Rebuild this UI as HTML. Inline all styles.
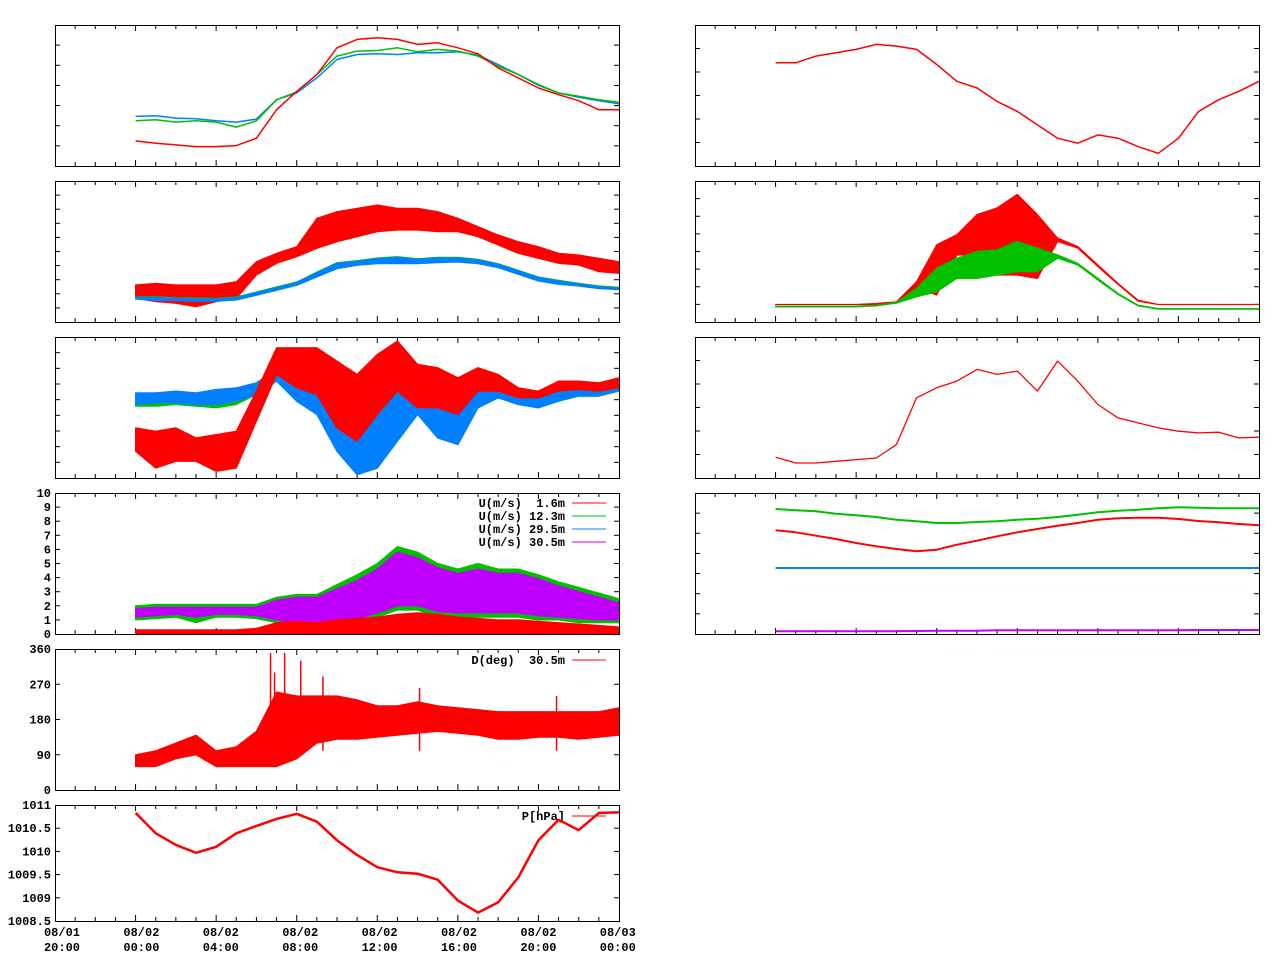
<!DOCTYPE html>
<html><head><meta charset="utf-8"><style>
html,body{margin:0;padding:0;background:#fff}
svg{display:block}
text{font-family:"Liberation Mono",monospace;font-weight:bold;font-size:12px;fill:#000;white-space:pre}
</style></head><body>
<svg id="chart" width="1280" height="960" viewBox="0 0 1280 960" xmlns="http://www.w3.org/2000/svg"></svg>
<script>
// ---- data (hours since 08/01 20:00) ----
const hours = [4,5,6,7,8,9,10,11,12,13,14,15,16,17,18,19,20,21,22,23,24,25,26,27,28];
const xTickTop = ['08/01','08/02','08/02','08/02','08/02','08/02','08/02','08/03'];
const xTickBot = ['20:00','00:00','04:00','08:00','12:00','16:00','20:00','00:00'];

// Left panel 1 (unlabeled scale 0..421)
const l1Blue  = [148,150,143,141,135,131,140,198,218,263,318,333,335,333,338,338,341,331,303,273,241,218,205,195,186];
const l1Green = [135,138,131,135,131,116,135,198,221,273,328,343,345,353,341,348,343,328,298,273,243,218,208,198,190];
const l1Red   = [75,68,63,58,58,61,83,168,223,273,353,378,383,378,363,368,353,335,293,263,233,213,195,168,168];
// Left panel 2 (0..423)
const l2RedLo  = [71,61,56,46,61,71,141,176,196,221,241,256,271,276,276,271,271,256,231,206,191,176,171,151,146];
const l2RedHi  = [111,116,111,111,111,121,181,206,226,311,331,341,351,341,341,331,311,286,261,241,226,206,201,191,181];
const l2BlueLo = [69,64,64,62,62,66,80,95,110,135,160,170,175,175,175,178,180,175,163,143,123,113,108,100,97];
const l2BlueHi = [73,74,71,70,69,73,88,103,118,148,176,182,190,194,188,192,192,186,173,153,133,123,114,106,102];
// Left panel 3 (0..422)
const l3RedLo   = [80,30,50,50,20,30,170,310,270,250,150,110,190,260,210,210,190,260,260,240,240,260,265,260,270];
const l3RedHi   = [150,140,150,120,130,140,260,390,390,390,350,310,370,410,340,330,300,330,310,270,260,290,290,285,300];
const l3GreenLo = [215,215,220,215,210,220,250,290,230,190,80,10,30,110,190,120,100,210,240,220,210,230,245,245,260];
const l3GreenHi = [240,240,250,250,235,255,285,325,310,290,260,190,210,290,310,270,230,290,300,260,250,270,285,280,295];
const l3BlueLo  = [220,225,225,220,220,230,250,290,230,190,80,10,30,110,190,120,100,210,240,220,210,230,245,245,260];
const l3BlueHi  = [255,255,260,255,265,270,285,325,310,290,260,190,210,290,310,270,230,290,300,260,250,270,285,280,295];
// Left panel 4: wind speed (m/s)
const uRedHi    = [0.3,0.3,0.3,0.3,0.3,0.3,0.4,0.8,0.9,0.8,1.0,1.1,1.2,1.4,1.5,1.4,1.2,1.1,1.0,1.0,0.9,0.8,0.7,0.6,0.5];
const uGreenLo  = [1.0,1.1,1.2,0.8,1.2,1.2,1.1,0.8,0.6,0.3,0.6,0.8,1.2,1.7,1.7,1.2,1.2,1.2,1.2,1.2,1.0,1.0,0.8,0.8,0.8];
const uGreenHi  = [2.0,2.1,2.1,2.1,2.1,2.1,2.1,2.6,2.8,2.8,3.5,4.2,5.0,6.2,5.8,5.0,4.6,5.0,4.6,4.6,4.2,3.7,3.3,2.9,2.5];
const uPurpleLo = [1.2,1.3,1.4,1.2,1.4,1.4,1.3,1.0,0.8,0.6,0.9,1.1,1.5,2.0,2.0,1.6,1.5,1.5,1.5,1.5,1.3,1.2,1.1,1.0,1.0];
const uPurpleHi = [1.8,1.9,1.9,1.9,1.9,1.9,1.9,2.4,2.6,2.6,3.2,3.8,4.6,5.8,5.4,4.7,4.3,4.6,4.3,4.3,3.9,3.4,3.0,2.6,2.2];
// Left panel 5: direction (deg)
const dLo = [60,60,80,90,60,60,60,60,80,120,130,130,135,140,145,150,145,140,130,130,135,135,130,135,140];
const dHi = [90,100,120,140,100,110,150,250,240,240,240,230,215,215,225,215,210,205,200,200,200,200,200,200,210];
const dSpikeHours = [10.7,10.9,11.4,12.2,13.3,18.1,24.9];
const dSpikeTop   = [350,300,350,330,290,260,240];
// Left panel 6: pressure (hPa)
const pres = [1010.83,1010.39,1010.14,1009.97,1010.1,1010.39,1010.55,1010.7,1010.81,1010.64,1010.24,1009.92,1009.66,1009.55,1009.52,1009.39,1008.94,1008.68,1008.9,1009.44,1010.24,1010.68,1010.46,1010.83,1010.84];
// Right panel 1 (0..421)
const r1Red = [308,308,328,338,348,363,358,348,303,253,233,193,163,123,83,68,93,83,58,38,83,163,198,223,253];
// Right panel 2 (0..420)
const r2RedHi   = [52,52,52,52,52,55,60,120,230,260,320,340,380,320,250,225,170,115,65,52,52,52,52,52,52];
const r2RedLo   = [52,52,52,52,52,52,58,100,80,200,200,140,140,130,240,220,165,112,62,52,52,52,52,52,52];
const r2GreenHi = [47,47,47,47,47,50,58,100,160,190,210,215,240,220,200,175,130,85,50,40,40,40,40,40,40];
const r2GreenLo = [45,45,45,45,45,48,56,75,90,130,130,140,150,150,190,170,125,82,48,38,38,38,38,38,38];
// Right panel 3 (0..422)
const r3Red = [62,45,45,50,55,60,100,240,270,290,325,310,320,260,350,290,220,180,165,150,140,135,137,120,122];
// Right panel 4 (0..423)
const r4Green  = [375,371,368,361,356,351,343,338,333,333,336,338,343,346,351,358,365,370,373,377,380,379,377,377,377];
const r4Red    = [311,305,295,285,273,263,255,248,253,268,280,293,305,315,325,333,343,347,349,349,345,339,335,330,326];
const r4Blue   = [198,198,198,198,198,198,198,198,198,198,198,198,198,198,198,198,198,198,198,198,198,198,198,198,198];
const r4Purple = [8,8,8,8,8,8,8,9,10,10,10,11,11,11,11,11,11,11,11,11,11,12,12,12,12];

const C = {red:'#ff0000', green:'#00c000', blue:'#0080ff', purple:'#c000ff'};
const NS = 'http://www.w3.org/2000/svg';
const svg = document.getElementById('chart');
function mk(tag, attrs, parent){ const e=document.createElementNS(NS,tag); for(const k in attrs) e.setAttribute(k,attrs[k]); (parent||svg).appendChild(e); return e; }

function panel(name, x0, y0, h, dmin, dmax, nInt, labels){
  const g = mk('g',{});
  
  
  const w = 564;
  const P = {g, x:(t)=>x0 + t*w/28, y:(v)=>y0 + h - (v-dmin)/(dmax-dmin)*h};
  for(let i=1;i<nInt;i++){
    const yy = y0 + h - i*h/nInt;
    mk('line',{x1:x0,y1:yy,x2:x0+5,y2:yy,stroke:'#000','stroke-width':1},g);
    mk('line',{x1:x0+w-5,y1:yy,x2:x0+w,y2:yy,stroke:'#000','stroke-width':1},g);
  }
  for(let t=1;t<28;t++){
    const xx = P.x(t), L = (t%4===0)?6:4;
    mk('line',{x1:xx,y1:y0+h,x2:xx,y2:y0+h-L,stroke:'#000','stroke-width':1},g);
    mk('line',{x1:xx,y1:y0,x2:xx,y2:y0+L,stroke:'#000','stroke-width':1},g);
  }
  if(labels){
    labels.forEach((lab,i)=>{
      const yy = y0 + h - i*h/(labels.length-1);
      const t = mk('text',{x:x0-4,y:yy+4,'text-anchor':'end'},g);
      t.textContent = lab;
      
      
    });
  }
  P.frame = ()=>{ const r = mk('rect',{x:x0+0.5,y:y0+0.5,width:w,height:h,fill:'none',stroke:'#000','stroke-width':1},g);
    
     };
  return P;
}
function line(P, xs, vs, color, sw, name){
  const pts = xs.map((t,i)=>P.x(t).toFixed(1)+','+P.y(vs[i]).toFixed(1)).join(' ');
  const e = mk('polyline',{points:pts,fill:'none',stroke:color,'stroke-width':sw||1.5,'stroke-linejoin':'round'},P.g);
  
  
}
function band(P, xs, lo, hi, color, name){
  const a = xs.map((t,i)=>P.x(t).toFixed(1)+','+P.y(hi[i]).toFixed(1));
  const b = xs.map((t,i)=>P.x(t).toFixed(1)+','+P.y(lo[i]).toFixed(1)).reverse();
  const e = mk('polygon',{points:a.concat(b).join(' '),fill:color,stroke:color,'stroke-width':1.2,'stroke-linejoin':'round'},P.g);
  
  
}
function legend(P, y, label, color){
  const t = mk('text',{x:565,y:y+4,'text-anchor':'end'},P.g);
  t.textContent = label;
  
  
  const l = mk('line',{x1:572,y1:y,x2:606,y2:y,stroke:color,'stroke-width':1},P.g);
  
  
}

// Left 1
let P = panel('temperature-panel',55,25,141,0,421,7,null);
line(P,hours,l1Blue,C.blue,1.5,'series-blue');
line(P,hours,l1Green,C.green,1.5,'series-green');
line(P,hours,l1Red,C.red,1.5,'series-red');
P.frame();
// Left 2
P = panel('humidity-panel',55,181,141,0,423,10,null);
band(P,hours,l2RedLo,l2RedHi,C.red,'series-red');
band(P,hours,l2BlueLo.map(v=>v+2),l2BlueHi.map(v=>v+2),C.green,'series-green');
band(P,hours,l2BlueLo,l2BlueHi,C.blue,'series-blue');
P.frame();
// Left 3
P = panel('fluctuation-panel',55,337,141,0,422,9,null);
band(P,hours,l3GreenLo,l3GreenHi,C.green,'series-green');
band(P,hours,l3BlueLo,l3BlueHi,C.blue,'series-blue');
band(P,hours,l3RedLo,l3RedHi,C.red,'series-red');
P.frame();
// Left 4 wind
P = panel('wind-speed-panel',55,493,141,0,10,10,['0','1','2','3','4','5','6','7','8','9','10']);
legend(P,503,'U(m/s)  1.6m',C.red);
legend(P,516,'U(m/s) 12.3m',C.green);
legend(P,529,'U(m/s) 29.5m',C.blue);
legend(P,542,'U(m/s) 30.5m',C.purple);
band(P,hours,uGreenLo,uGreenHi,C.green,'wind-12.3m');
band(P,hours,uPurpleLo,uPurpleHi,C.purple,'wind-30.5m');
band(P,hours,hours.map(()=>0),uRedHi,C.red,'wind-1.6m');
P.frame();
// Left 5 direction
P = panel('wind-direction-panel',55,649,141,0,360,4,['0','90','180','270','360']);
legend(P,660,'D(deg)  30.5m',C.red);
band(P,hours,dLo,dHi,C.red,'direction-30.5m');
dSpikeHours.forEach((t,i)=>{
  const s = mk('line',{x1:P.x(t),x2:P.x(t),y1:P.y(dSpikeTop[i]),y2:P.y(100),stroke:C.red,'stroke-width':1.5},P.g);
  
  
});
P.frame();
// Left 6 pressure
P = panel('pressure-panel',55,805,116,1008.5,1011,5,['1008.5','1009','1009.5','1010','1010.5','1011']);
legend(P,816,'P[hPa]',C.red);
line(P,hours,pres,C.red,2.5,'pressure-series');
P.frame();
// x labels
for(let i=0;i<8;i++){
  const xx = 62 + i*79.4;
  const t1 = mk('text',{x:xx,y:936,'text-anchor':'middle'});
  t1.textContent = xTickTop[i];
  
  
  const t2 = mk('text',{x:xx,y:951,'text-anchor':'middle'});
  t2.textContent = xTickBot[i];
  
  
}
// Right 1
P = panel('right-panel-1',695,25,141,0,421,6,null);
line(P,hours,r1Red,C.red,1.5,'series-red');
P.frame();
// Right 2
P = panel('radiation-panel',695,181,141,0,420,8,null);
band(P,hours,r2RedLo,r2RedHi,C.red,'series-red');
band(P,hours,r2GreenLo,r2GreenHi,C.green,'series-green');
P.frame();
// Right 3
P = panel('right-panel-3',695,337,141,0,422,6,null);
line(P,hours,r3Red,C.red,1.3,'series-red');
P.frame();
// Right 4
P = panel('right-panel-4',695,493,141,0,423,7,null);
line(P,hours,r4Green,C.green,2,'series-green');
line(P,hours,r4Red,C.red,2,'series-red');
line(P,hours,r4Blue,C.blue,2,'series-blue');
line(P,hours,r4Purple,C.purple,2,'series-purple');
P.frame();
</script>
</body></html>
